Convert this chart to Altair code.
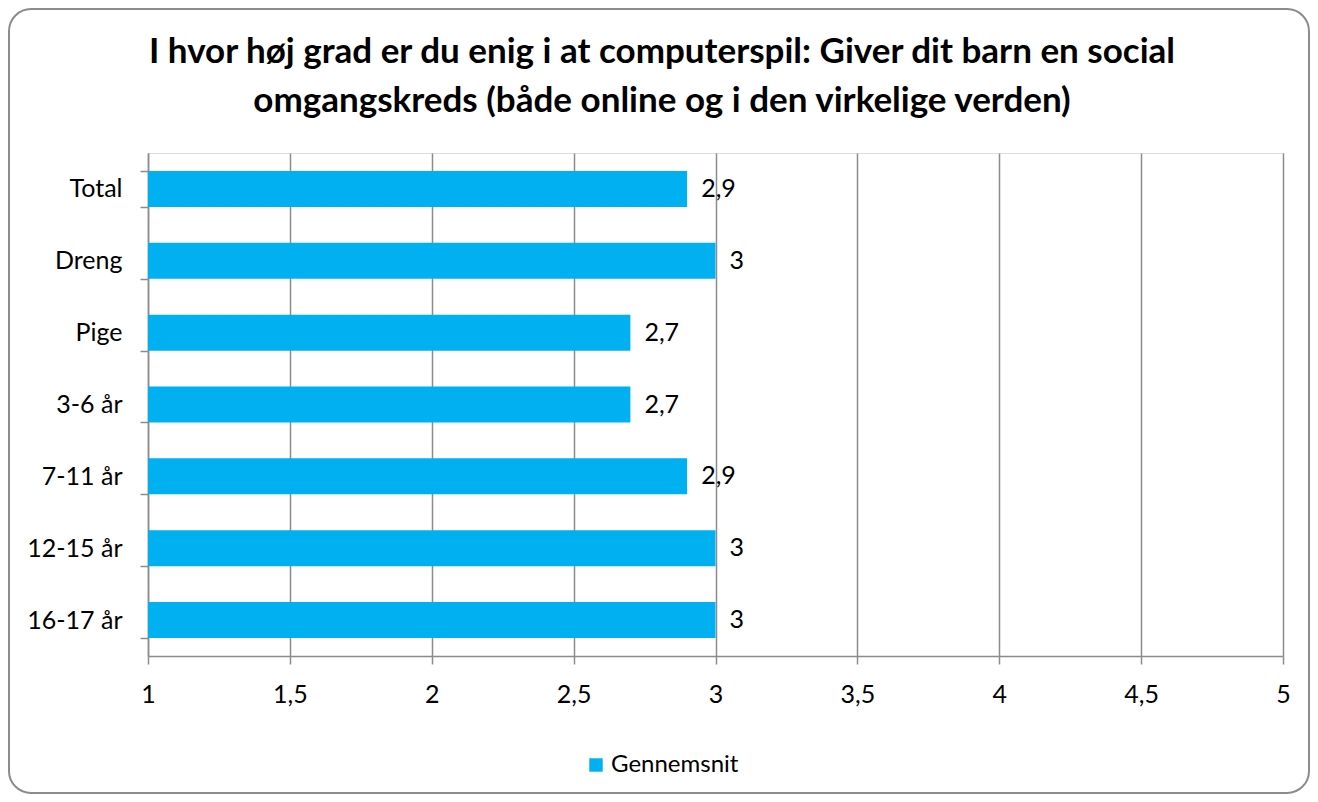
import altair as alt
import pandas as pd

categories = ["Total", "Dreng", "Pige", "3-6 år", "7-11 år", "12-15 år", "16-17 år"]
values = [2.9, 3, 2.7, 2.7, 2.9, 3, 3]
x_ticks = [1, 1.5, 2, 2.5, 3, 3.5, 4, 4.5, 5]
series_name = "Gennemsnit"
title_lines = [
    "I hvor høj grad er du enig i at computerspil: Giver dit barn en social",
    "omgangskreds (både online og i den virkelige verden)",
]

df = pd.DataFrame({"kategori": categories, "værdi": values, "serie": series_name, "start": 1})

W, H = 1135, 503
PL, PT, PR, PB = 140, 145, 27, 138
FONT = "Lato"
GRAY = "#8c8c8c"
BAR = "#00B0F0"
FS = 25

xscale = alt.Scale(domain=[1, 5], nice=False, zero=False)
yenc = alt.Y(
    "kategori:N",
    sort=categories,
    title=None,
    scale=alt.Scale(paddingInner=0.5, paddingOuter=0.25),
    axis=alt.Axis(
        domainColor=GRAY, domainWidth=1.5, tickColor=GRAY, tickWidth=1.5, tickSize=8,
        tickBand="extent", labelFont=FONT, labelFontSize=FS, labelColor="black",
        labelPadding=18, grid=False,
    ),
)

bars = alt.Chart(df).mark_bar(size=36).encode(
    x=alt.X(
        "værdi:Q", scale=xscale, title=None,
        axis=alt.Axis(
            values=x_ticks, format=".1~f", labelExpr="replace(datum.label, '.', ',')",
            domainColor=GRAY, domainWidth=1.5, tickColor=GRAY, tickWidth=1.5, tickSize=8,
            gridColor=GRAY, gridWidth=1.5, labelFont=FONT, labelFontSize=FS,
            labelColor="black", labelPadding=18, labelFlush=False,
        ),
    ),
    x2="start:Q",
    y=yenc,
    color=alt.Color(
        "serie:N", scale=alt.Scale(range=[BAR]), title=None,
        legend=alt.Legend(
            orient="none", legendX=436, legendY=600, symbolType="square", symbolSize=180,
            symbolStrokeWidth=0, labelFont=FONT, labelFontSize=24, labelColor="black",
            labelOffset=3,
        ),
    ),
)

labels = alt.Chart(df).transform_calculate(
    lbl="replace(toString(datum['værdi']), '.', ',')"
).mark_text(align="left", baseline="middle", dx=14, font=FONT, fontSize=FS, color="black").encode(
    x=alt.X("værdi:Q", scale=xscale),
    y=alt.Y("kategori:N", sort=categories),
    text="lbl:N",
)

border = alt.Chart(pd.DataFrame({"b": [0]})).mark_rect(
    fill=None, stroke=GRAY, strokeWidth=2, cornerRadius=22
).encode(
    x=alt.value(-PL + 1), x2=alt.value(W + PR - 1),
    y=alt.value(-PT + 1), y2=alt.value(H + PB - 1),
)

title_df = pd.DataFrame({"linje": title_lines})
title1 = alt.Chart(title_df).transform_filter(f"datum.linje == '{title_lines[0]}'").mark_text(
    align="center", baseline="alphabetic", font=FONT, fontSize=35, fontWeight="bold", color="black"
).encode(x=alt.value(514), y=alt.value(-90), text="linje:N")
title2 = alt.Chart(title_df).transform_filter(f"datum.linje == '{title_lines[1]}'").mark_text(
    align="center", baseline="alphabetic", font=FONT, fontSize=35, fontWeight="bold", color="black"
).encode(x=alt.value(514), y=alt.value(-41), text="linje:N")

chart = alt.layer(border, bars, labels, title1, title2).properties(
    width=W, height=H,
    autosize=alt.AutoSizeParams(type="none"),
    padding={"left": PL, "top": PT, "right": PR, "bottom": PB},
).configure_view(stroke=None).configure(background="white")

chart.save("out.html", embed_options={"renderer": "svg", "actions": False})
